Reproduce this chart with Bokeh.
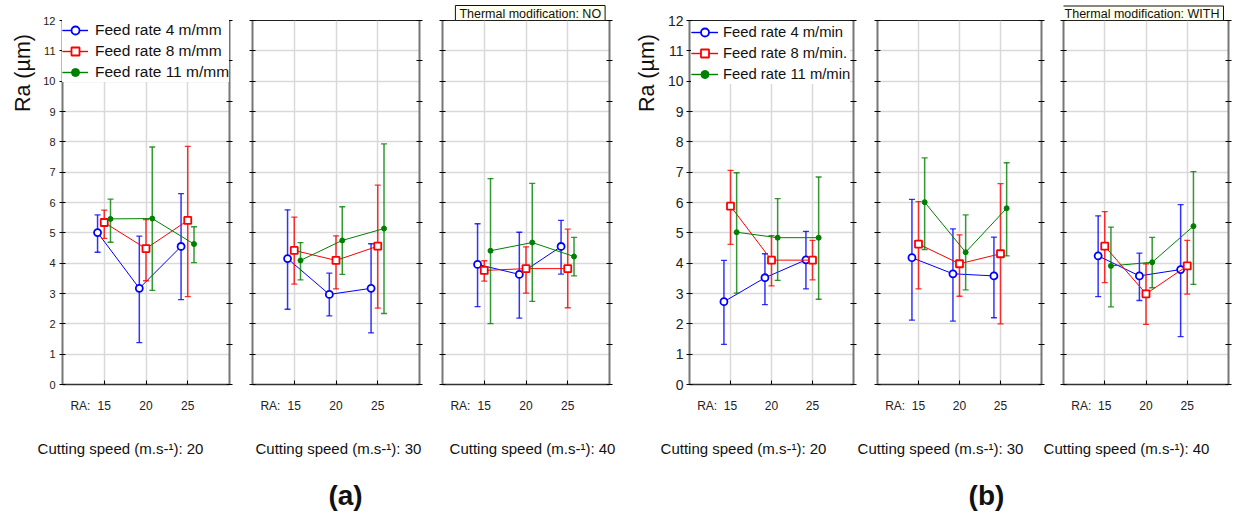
from bokeh.plotting import figure
from bokeh.models import (Range1d, LinearAxis, FixedTicker, Label, Legend,
                          LegendItem, CustomJSTickFormatter)
from bokeh.layouts import row, column
from bokeh.embed import file_html
from bokeh.resources import INLINE

FONT = "Liberation Sans"

# ---------------- data ----------------
ra_levels = ["15", "20", "25"]
speeds = ["20", "30", "40"]
feed_no = ["Feed rate 4 m/mm", "Feed rate 8 m/mm", "Feed rate 11 m/mm"]
feed_with = ["Feed rate 4 m/min", "Feed rate 8 m/min.", "Feed rate 11 m/min"]

# Thermal modification: NO  (one row per cutting speed 20/30/40, columns RA 15/20/25)
no_f4_mean = [[5.01, 3.17, 4.55], [4.15, 2.97, 3.17], [3.96, 3.63, 4.55]]
no_f4_low = [[4.36, 1.38, 2.80], [2.48, 2.26, 1.70], [2.57, 2.19, 3.64]]
no_f4_high = [[5.59, 4.89, 6.29], [5.76, 3.67, 4.64], [5.30, 5.02, 5.41]]
no_f8_mean = [[5.34, 4.48, 5.41], [4.42, 4.09, 4.56], [3.76, 3.82, 3.82]]
no_f8_low = [[4.82, 3.42, 2.90], [3.31, 3.15, 2.52], [3.41, 3.01, 2.53]]
no_f8_high = [[5.75, 5.44, 7.85], [5.52, 4.90, 6.57], [4.08, 4.54, 5.12]]
no_f11_mean = [[5.46, 5.47, 4.63], [4.09, 4.75, 5.14], [4.41, 4.68, 4.22]]
no_f11_low = [[4.69, 3.10, 4.02], [3.45, 3.63, 2.34], [2.01, 2.74, 3.58]]
no_f11_high = [[6.11, 7.83, 5.20], [4.68, 5.86, 7.93], [6.79, 6.63, 4.85]]

# Thermal modification: WITH
with_f4_mean = [[2.73, 3.52, 4.11], [4.18, 3.65, 3.58], [4.24, 3.58, 3.79]]
with_f4_low = [[1.32, 2.63, 3.15], [2.12, 2.09, 2.20], [2.90, 2.77, 1.58]]
with_f4_high = [[4.09, 4.31, 5.05], [6.10, 5.13, 4.86], [5.56, 4.33, 5.93]]
with_f8_mean = [[5.88, 4.10, 4.10], [4.63, 3.98, 4.31], [4.56, 2.99, 3.91]]
with_f8_low = [[4.62, 3.25, 3.45], [3.15, 2.91, 2.00], [3.36, 1.98, 2.98]]
with_f8_high = [[7.06, 4.91, 4.75], [6.03, 4.93, 6.62], [5.70, 3.98, 4.75]]
with_f11_mean = [[5.02, 4.84, 4.84], [6.01, 4.36, 5.81], [3.91, 4.03, 5.22]]
with_f11_low = [[3.01, 3.43, 2.81], [4.45, 3.12, 4.24], [2.56, 3.19, 3.30]]
with_f11_high = [[6.98, 6.13, 6.84], [7.47, 5.59, 7.31], [5.19, 4.85, 7.02]]

y_ticks = list(range(0, 13))
right_ticks = [k * 4.0 / 3.0 for k in range(0, 10)]

# ---------------- styling ----------------
COLORS = ["#0000FF", "#FF0000", "#008000"]
OFFSETS = [-0.16, 0.0, 0.15]
FRAME_H = 364
TOP_B = 20
BOTTOM_B = 28
ROW_H = TOP_B + FRAME_H + BOTTOM_B
BOT_H = 100
TOTAL_W = 1249
RA_POS = 0.43

empty_fmt = CustomJSTickFormatter(code="return ''")


def strip(width, height):
    s = figure(width=width, height=height, min_border=0,
               x_range=Range1d(0, width), y_range=Range1d(0, height),
               x_axis_location=None, y_axis_location=None,
               output_backend="svg", toolbar_location=None)
    s.outline_line_color = None
    s.xgrid.visible = False
    s.ygrid.visible = False
    s.background_fill_color = "white"
    s.border_fill_color = "white"
    return s


def make_panel(means, lows, highs, fw, lb, rb, first, legend_labels,
               ytick_size, ystandoff, legend_cfg, top_border):
    p = figure(frame_width=fw, frame_height=FRAME_H,
               x_range=Range1d(0, 4), y_range=Range1d(0, 12),
               min_border_left=lb, min_border_right=rb,
               min_border_top=top_border, min_border_bottom=BOTTOM_B,
               output_backend="svg", toolbar_location=None,
               background_fill_color="white", border_fill_color="white")
    p.outline_line_color = "#222222"
    p.outline_line_width = 1

    # grid
    p.xgrid.ticker = FixedTicker(ticks=[1, 2, 3])
    p.ygrid.ticker = FixedTicker(ticks=y_ticks)
    for g in (p.xgrid, p.ygrid):
        g.grid_line_color = "#d9d9d9"
        g.grid_line_width = 1.5

    # bottom axis: tick marks only
    xa = p.xaxis[0]
    xa.ticker = FixedTicker(ticks=[1, 2, 3])
    xa.formatter = empty_fmt
    xa.major_label_text_font_size = "1px"
    xa.major_label_standoff = 0
    xa.major_tick_in = 4
    xa.major_tick_out = 0
    xa.minor_tick_line_color = None
    xa.axis_line_color = "#333333"
    xa.axis_line_width = 1.5

    # bottom axis: category labels (incl. "RA:" prefix)
    xl = LinearAxis(ticker=FixedTicker(ticks=[RA_POS, 1, 2, 3]),
                    major_label_overrides={RA_POS: "RA:", 1: ra_levels[0],
                                           2: ra_levels[1], 3: ra_levels[2]},
                    axis_line_color=None, major_tick_line_color=None,
                    minor_tick_line_color=None, major_label_standoff=8,
                    major_label_text_font=FONT, major_label_text_font_size="12px",
                    major_label_text_color="#222222")
    p.add_layout(xl, "below")

    # left axis
    ya = p.yaxis[0]
    ya.ticker = FixedTicker(ticks=y_ticks)
    ya.major_tick_in = 3
    ya.major_tick_out = 3
    ya.minor_tick_line_color = None
    ya.axis_line_color = "#777777"
    ya.axis_line_width = 2
    ya.major_label_standoff = ystandoff
    ya.major_label_text_font = FONT
    ya.major_label_text_color = "#222222"
    if first:
        ya.major_label_text_font_size = ytick_size
    else:
        ya.formatter = empty_fmt
        ya.major_label_text_font_size = "1px"
        ya.major_label_standoff = 0

    # right axis
    ra = LinearAxis(ticker=FixedTicker(ticks=right_ticks), formatter=empty_fmt,
                    major_tick_in=3, major_tick_out=3,
                    minor_tick_line_color=None, axis_line_color="#777777",
                    axis_line_width=2, major_label_standoff=0,
                    major_label_text_font_size="1px")
    p.add_layout(ra, "right")

    items = []
    for s in range(3):
        c = COLORS[s]
        xs = [i + 1 + OFFSETS[s] for i in range(3)]
        seg = p.segment(x0=xs, y0=lows[s], x1=xs, y1=highs[s],
                        line_color=c, line_width=1.5, line_alpha=0.8)
        p.scatter(xs, lows[s], marker="dash", size=6, line_color=c,
                  line_width=1.3, line_alpha=0.8)
        p.scatter(xs, highs[s], marker="dash", size=6, line_color=c,
                  line_width=1.3, line_alpha=0.8)
        ln = p.line(xs, means[s], line_color=c, line_width=1)
        if s == 0:
            mk = p.scatter(xs, means[s], marker="circle", size=7, line_color=c,
                           fill_color="white", line_width=1.8)
        elif s == 1:
            mk = p.scatter(xs, means[s], marker="square", size=7, line_color=c,
                           fill_color="white", line_width=1.8)
        else:
            mk = p.scatter(xs, means[s], marker="circle", size=5, line_color=c,
                           fill_color=c, line_width=1)
        if legend_labels:
            items.append(LegendItem(label=legend_labels[s], renderers=[seg, ln, mk]))

    if first:
        lg = Legend(items=items, location="top_left",
                    margin=legend_cfg["margin"], padding=0,
                    spacing=legend_cfg["spacing"],
                    glyph_width=legend_cfg["gw"], glyph_height=20,
                    label_standoff=legend_cfg["standoff"],
                    label_text_font=FONT, label_text_font_size=legend_cfg["size"],
                    label_text_color="#111111",
                    border_line_color=None, background_fill_color="white",
                    background_fill_alpha=1.0)
        p.add_layout(lg)
    return p


def ylabel_strip(width, cx):
    s = strip(width, ROW_H)
    s.add_layout(Label(x=cx, y=ROW_H - 60, text="Ra (µm)", angle=90,
                       angle_units="deg", text_align="center",
                       text_baseline="middle", text_font=FONT,
                       text_font_size="21.5px", text_color="#111111"))
    return s


def thermal_strip(width, text, x_right, y_mid):
    s = strip(width, TOP_B)
    s.add_layout(Label(x=x_right, y=TOP_B - y_mid, text=text, text_align="right",
                       text_baseline="middle", text_font=FONT,
                       text_font_size="12.5px", text_color="#111111",
                       background_fill_color="#FFFFEE",
                       border_line_color="#111111", border_line_width=1,
                       padding=(4, 1)))
    return s


groups = [
    ("no", [no_f4_mean, no_f8_mean, no_f11_mean], [no_f4_low, no_f8_low, no_f11_low],
     [no_f4_high, no_f8_high, no_f11_high], feed_no,
     ("Thermal modification: NO", 185, 13)),
    ("with", [with_f4_mean, with_f8_mean, with_f11_mean], [with_f4_low, with_f8_low, with_f11_low],
     [with_f4_high, with_f8_high, with_f11_high], feed_with,
     ("Thermal modification: WITH", 191, 13.5)),
]

geom = {
    "no": [(167, 26, 11), (167, 12, 11), (167, 12, 11)],
    "with": [(164, 27, 12), (164, 12, 11), (165, 11, 21)],
}
ytick_sizes = {"no": "11px", "with": "14px"}
ystandoffs = {"no": 4, "with": 3}
legend_cfgs = {
    "no": dict(margin=0, spacing=1, gw=26, standoff=7, size="15.5px"),
    "with": dict(margin=2, spacing=1, gw=27, standoff=5, size="14.8px"),
}
ylab_strips = {"no": (36, 22), "with": (42, 26)}

children = []
for key, means, lows, highs, labels, thermal in groups:
    w, cx = ylab_strips[key]
    children.append(ylabel_strip(w, cx))
    for k in range(3):
        fw, lb, rb = geom[key][k]
        last = (k == 2)
        p = make_panel([m[k] for m in means], [l[k] for l in lows], [h[k] for h in highs],
                       fw, lb, rb, k == 0, labels if k == 0 else None,
                       ytick_sizes[key], ystandoffs[key], legend_cfgs[key],
                       0 if last else TOP_B)
        if last:
            txt, xr, ym = thermal
            children.append(column(thermal_strip(fw + lb + rb, txt, xr, ym), p, spacing=0))
        else:
            children.append(p)

# bottom strip: cutting speed captions and group labels
bot = strip(TOTAL_W, BOT_H)
caption_x = [120, 340, 532, 743, 940, 1126]
caption_txt = []
for key in ("no", "with"):
    for k in range(3):
        sep = "  " if (key == "no" and k == 1) else " "
        caption_txt.append("Cutting speed (m.s-\u00b9):" + sep + speeds[k])
for cx, txt in zip(caption_x, caption_txt):
    bot.add_layout(Label(x=cx, y=BOT_H - 33, text=txt, text_align="center",
                         text_baseline="middle", text_font=FONT,
                         text_font_size="15px", text_color="#111111"))
for cx, txt in [(345, "(a)"), (986, "(b)")]:
    bot.add_layout(Label(x=cx, y=BOT_H - 80, text=txt, text_align="center",
                         text_baseline="middle", text_font=FONT,
                         text_font_size="28px", text_font_style="bold",
                         text_color="#111111"))

layout = column(row(*children, spacing=0), bot, spacing=0)
open("out.html", "w").write(file_html(layout, INLINE))
